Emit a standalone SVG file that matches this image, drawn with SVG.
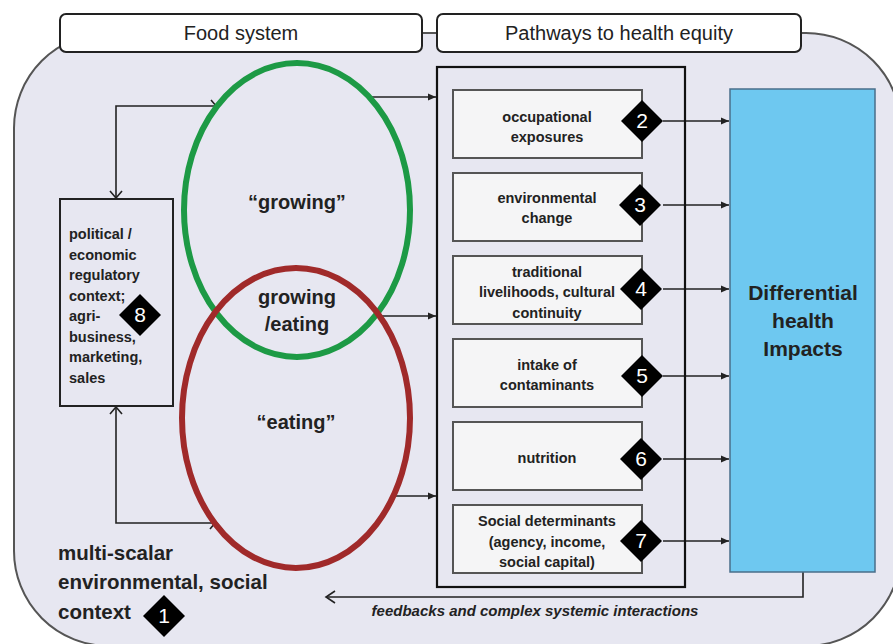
<svg xmlns="http://www.w3.org/2000/svg" width="893" height="644" viewBox="0 0 893 644">
<style>
.bg{fill:#e7e7f1;stroke:#555;stroke-width:2}
.hdr{fill:#fff;stroke:#222;stroke-width:2}
.hdrt{font-family:"Liberation Sans",Arial,sans-serif;font-size:20px;fill:#222;text-anchor:middle}
.b{font-family:"Liberation Sans",Arial,sans-serif;font-weight:bold;fill:#222}
.c{text-anchor:middle}
.pbox{fill:#f5f5f6;stroke:#555;stroke-width:2}
.outer{fill:none;stroke:#111;stroke-width:2.2}
.num{font-family:"Liberation Sans",Arial,sans-serif;font-size:21px;fill:#fff;text-anchor:middle}
.ln{stroke:#222;stroke-width:1.6;fill:none}
.fa{stroke:#222;stroke-width:1.6;fill:none;marker-end:url(#fill)}
</style>
<defs>
<marker id="fill" markerWidth="9" markerHeight="8" refX="8" refY="4" orient="auto" markerUnits="userSpaceOnUse">
<path d="M0,0.5 L8,4 L0,7.5 z" fill="#222"/>
</marker>
<polygon id="dm" points="0,-21 21,0 0,21 -21,0" fill="#000"/>
</defs>
<rect width="893" height="644" fill="#fff"/>
<rect class="bg" x="14" y="33" width="887" height="613" rx="95" ry="95"/>

<g id="connectors">
<polyline class="ln" points="217,106 116,106 116,198"/>
<path class="ln" d="M110,191 L116,198 L122,191"/>
<path class="ln" d="M211,100 L217,107 L223,100"/>
<polyline class="ln" points="116,407 116,523 216,523"/>
<path class="ln" d="M110,414 L116,407 L122,414"/>
<path class="ln" d="M210,529 L216,522 L222,529"/>
<line class="fa" x1="371" y1="97" x2="436" y2="97"/>
<line class="fa" x1="377" y1="316" x2="436" y2="316"/>
<line class="fa" x1="392" y1="496" x2="436" y2="496"/>
<line class="fa" x1="663" y1="121" x2="729" y2="121"/>
<line class="fa" x1="663" y1="205" x2="729" y2="205"/>
<line class="fa" x1="663" y1="289" x2="729" y2="289"/>
<line class="fa" x1="663" y1="376" x2="729" y2="376"/>
<line class="fa" x1="663" y1="459" x2="729" y2="459"/>
<line class="fa" x1="663" y1="541" x2="729" y2="541"/>
<polyline class="ln" points="803,572 803,597 326,597"/>
<path class="ln" d="M335,591 L326,597 L335,603"/>
</g>

<g id="header-food">
<rect class="hdr" x="60" y="14" width="362" height="38" rx="6"/>
<text class="hdrt" x="241" y="40">Food system</text>
</g>
<g id="header-pathways">
<rect class="hdr" x="437" y="14" width="364" height="38" rx="6"/>
<text class="hdrt" x="619" y="40">Pathways to health equity</text>
</g>

<g id="growing">
<ellipse cx="297" cy="210" rx="113" ry="147" fill="none" stroke="#1d9a45" stroke-width="6"/>
<text class="b c" x="297" y="209" font-size="20">“growing”</text>
</g>
<g id="eating">
<ellipse cx="296" cy="418" rx="114" ry="150" fill="none" stroke="#a02a2a" stroke-width="6"/>
<text class="b c" x="296" y="429" font-size="20">“eating”</text>
</g>
<g id="growing-eating">
<text class="b c" x="297" y="304" font-size="20">growing</text>
<text class="b c" x="297" y="331" font-size="20">/eating</text>
</g>

<g id="political">
<rect x="60" y="199" width="113" height="207" fill="none" stroke="#222" stroke-width="2"/>
<text class="b" font-size="14.5" x="69" y="239">political /</text>
<text class="b" font-size="14.5" x="69" y="259.5">economic</text>
<text class="b" font-size="14.5" x="69" y="280">regulatory</text>
<text class="b" font-size="14.5" x="69" y="300.5">context;</text>
<text class="b" font-size="14.5" x="69" y="321">agri-</text>
<text class="b" font-size="14.5" x="69" y="341.5">business,</text>
<text class="b" font-size="14.5" x="69" y="362">marketing,</text>
<text class="b" font-size="14.5" x="69" y="382.5">sales</text>
<use href="#dm" x="140" y="315"/>
<text class="num" x="140" y="322">8</text>
</g>

<g id="pathways">
<rect class="outer" x="437" y="67" width="248" height="520"/>
</g>
<g id="p2">
<rect class="pbox" x="453" y="90" width="189" height="68"/>
<text class="b c" font-size="14.5" x="547" y="122">occupational</text>
<text class="b c" font-size="14.5" x="547" y="142">exposures</text>
<use href="#dm" x="642" y="121"/>
<text class="num" x="642" y="128">2</text>
</g>
<g id="p3">
<rect class="pbox" x="453" y="173" width="189" height="68"/>
<text class="b c" font-size="14.5" x="547" y="203">environmental</text>
<text class="b c" font-size="14.5" x="547" y="223">change</text>
<use href="#dm" x="640" y="205"/>
<text class="num" x="640" y="212">3</text>
</g>
<g id="p4">
<rect class="pbox" x="453" y="256" width="189" height="68"/>
<text class="b c" font-size="14.5" x="547" y="277">traditional</text>
<text class="b c" font-size="14.5" x="547" y="297">livelihoods, cultural</text>
<text class="b c" font-size="14.5" x="547" y="318">continuity</text>
<use href="#dm" x="641" y="289"/>
<text class="num" x="641" y="296">4</text>
</g>
<g id="p5">
<rect class="pbox" x="453" y="339" width="189" height="68"/>
<text class="b c" font-size="14.5" x="547" y="370">intake of</text>
<text class="b c" font-size="14.5" x="547" y="390">contaminants</text>
<use href="#dm" x="642" y="376"/>
<text class="num" x="642" y="383">5</text>
</g>
<g id="p6">
<rect class="pbox" x="453" y="422" width="189" height="68"/>
<text class="b c" font-size="14.5" x="547" y="463">nutrition</text>
<use href="#dm" x="641" y="459"/>
<text class="num" x="641" y="466">6</text>
</g>
<g id="p7">
<rect class="pbox" x="453" y="505" width="189" height="68"/>
<text class="b c" font-size="14.5" x="547" y="526">Social determinants</text>
<text class="b c" font-size="14.5" x="547" y="547">(agency, income,</text>
<text class="b c" font-size="14.5" x="547" y="567">social capital)</text>
<use href="#dm" x="641" y="541"/>
<text class="num" x="641" y="548">7</text>
</g>

<g id="impacts">
<rect x="730" y="89" width="145" height="483" fill="#6ec8f0" stroke="#4a6f8a" stroke-width="1.5"/>
<text class="b c" font-size="21" x="803" y="300">Differential</text>
<text class="b c" font-size="21" x="803" y="328">health</text>
<text class="b c" font-size="21" x="803" y="356">Impacts</text>
</g>

<g id="context">
<text class="b" font-size="20.5" x="58" y="560">multi-scalar</text>
<text class="b" font-size="20.5" x="58" y="589">environmental, social</text>
<text class="b" font-size="20.5" x="58" y="619">context</text>
<use href="#dm" x="164" y="616"/>
<text class="num" x="164" y="623">1</text>
</g>

<g id="feedback-label">
<text class="b c" font-size="15" font-style="italic" x="535" y="616">feedbacks and complex systemic interactions</text>
</g>
</svg>
